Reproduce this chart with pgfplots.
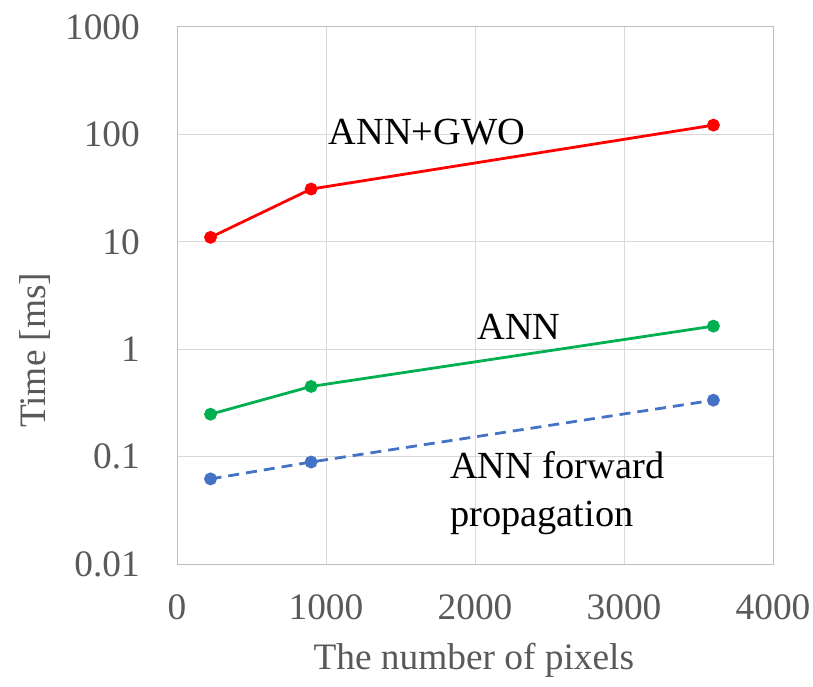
\documentclass[border=0pt]{standalone}
\usepackage{fontspec}
\setmainfont{Liberation Serif}
\usepackage{pgfplots}
\pgfplotsset{compat=1.18}
\definecolor{txtgray}{RGB}{89,89,89}
\definecolor{gridgray}{RGB}{217,217,217}
\definecolor{axgray}{RGB}{191,191,191}
\definecolor{exred}{RGB}{255,0,0}
\definecolor{exgreen}{RGB}{0,176,80}
\definecolor{exblue}{RGB}{68,114,196}
\begin{document}
\begin{tikzpicture}
\path[use as bounding box] (0,0) rectangle (813bp,687bp);
\begin{axis}[
    at={(177bp,123bp)}, anchor=south west,
    scale only axis,
    width=596bp, height=537bp,
    ymode=log,
    xmin=0, xmax=4000,
    ymin=0.01, ymax=1000,
    xtick={0,1000,2000,3000,4000},
    ytick={0.01,0.1,1,10,100,1000},
    yticklabels={0.01,0.1,1,10,100,1000},
    yminorticks=false,
    major tick length=0pt,
    minor tick length=0pt,
    grid=major,
    major grid style={gridgray, line width=1pt},
    axis line style={axgray, line width=1pt},
    /pgf/number format/1000 sep={},
    /pgf/number format/assume math mode=true,
    tick label style={font=\fontsize{37.5}{40}\selectfont, text=txtgray},
    xticklabel style={anchor=north, inner ysep=0pt, yshift=-30bp},
    yticklabel style={anchor=east, inner xsep=0pt, xshift=-37bp},
    xlabel={The number of pixels},
    ylabel={Time [ms]},
    every axis x label/.style={at={(axis description cs:0.498,-0.179)}, anchor=center,
        font=\fontsize{37.5}{40}\selectfont, text=txtgray},
    every axis y label/.style={at={(axis description cs:-0.238,0.398)}, anchor=center, rotate=90,
        font=\fontsize{37.5}{40}\selectfont, text=txtgray},
    clip=false,
]
\addplot[exred, line width=2.8pt, mark=*, mark size=5bp, mark options={solid, fill=exred, draw=exred}]
    coordinates {(225,11) (900,31) (3600,122)};
\addplot[exgreen, line width=2.8pt, mark=*, mark size=5bp, mark options={solid, fill=exgreen, draw=exgreen}]
    coordinates {(225,0.248) (900,0.45) (3600,1.64)};
\addplot[exblue, line width=2.8pt, dash pattern=on 11bp off 7bp, mark=*, mark size=5bp, mark options={solid, fill=exblue, draw=exblue}]
    coordinates {(225,0.062) (900,0.089) (3600,0.335)};
\node[font=\fontsize{38.5}{40}\selectfont, anchor=center] at (axis cs:1678,105) {ANN+GWO};
\node[font=\fontsize{38.5}{40}\selectfont, anchor=center] at (axis cs:2295,1.6) {ANN};
\node[font=\fontsize{38.5}{48}\selectfont, anchor=west, align=left, inner sep=0pt] at (axis cs:1832,0.0457) {ANN forward\\propagation};
\end{axis}
\end{tikzpicture}
\end{document}
